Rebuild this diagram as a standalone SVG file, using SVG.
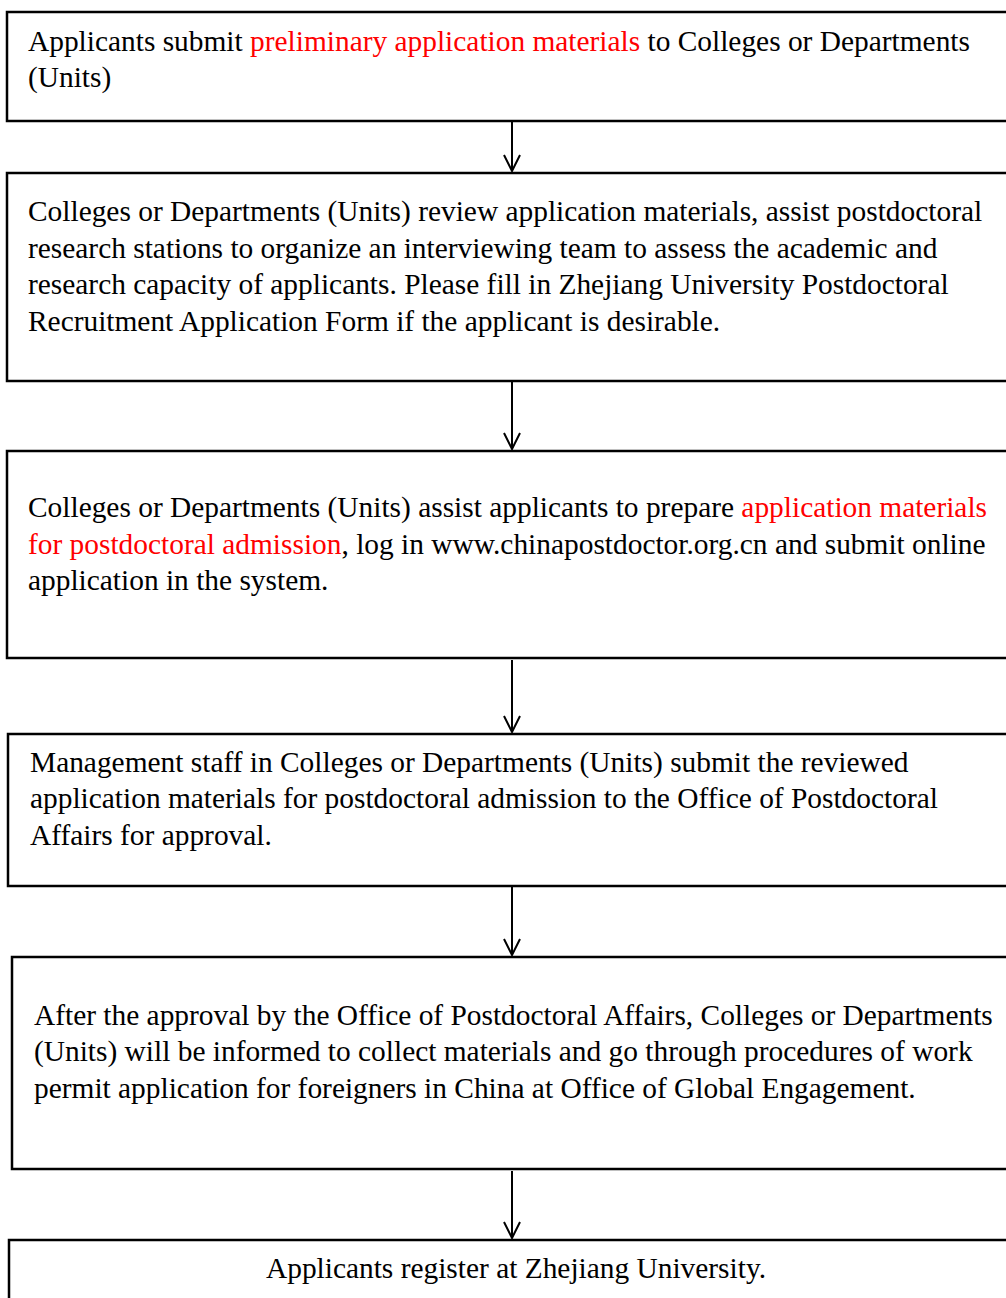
<svg xmlns="http://www.w3.org/2000/svg" width="1006" height="1298" viewBox="0 0 1006 1298">
<style>
.box{fill:#fff;stroke:#000;stroke-width:2.5}
.t{font-family:"Liberation Serif","Times New Roman",serif;font-size:29.4px;fill:#000}
.r{fill:#ff0000}
.c{stroke:#000;stroke-width:2;fill:none}
</style>
<rect width="1006" height="1298" fill="#fff"/>
<g id="n1">
<rect class="box" x="7" y="12" width="1010" height="109"/>
<text class="t" x="28" y="51">Applicants submit <tspan class="r">preliminary application materials</tspan> to Colleges or Departments</text>
<text class="t" x="28" y="87">(Units)</text>
</g>
<g id="n2">
<rect class="box" x="7" y="173" width="1010" height="208"/>
<text class="t" x="28" y="221">Colleges or Departments (Units) review application materials, assist postdoctoral</text>
<text class="t" x="28" y="258">research stations to organize an interviewing team to assess the academic and</text>
<text class="t" x="28" y="294">research capacity of applicants. Please fill in Zhejiang University Postdoctoral</text>
<text class="t" x="28" y="331">Recruitment Application Form if the applicant is desirable.</text>
</g>
<g id="n3">
<rect class="box" x="7" y="451" width="1010" height="207"/>
<text class="t" x="28" y="517">Colleges or Departments (Units) assist applicants to prepare <tspan class="r">application materials</tspan></text>
<text class="t" x="28" y="554"><tspan class="r">for postdoctoral admission</tspan>, log in www.chinapostdoctor.org.cn and submit online</text>
<text class="t" x="28" y="590">application in the system.</text>
</g>
<g id="n4">
<rect class="box" x="8" y="734" width="1010" height="152"/>
<text class="t" x="30" y="772">Management staff in Colleges or Departments (Units) submit the reviewed</text>
<text class="t" x="30" y="808">application materials for postdoctoral admission to the Office of Postdoctoral</text>
<text class="t" x="30" y="845">Affairs for approval.</text>
</g>
<g id="n5">
<rect class="box" x="12" y="957" width="1010" height="212"/>
<text class="t" x="34" y="1025">After the approval by the Office of Postdoctoral Affairs, Colleges or Departments</text>
<text class="t" x="34" y="1061">(Units) will be informed to collect materials and go through procedures of work</text>
<text class="t" x="34" y="1098">permit application for foreigners in China at Office of Global Engagement.</text>
</g>
<g id="n6">
<rect class="box" x="9" y="1240" width="1010" height="80"/>
<text class="t" x="516" y="1278" text-anchor="middle">Applicants register at Zhejiang University.</text>
</g>
<g id="connectors">
<path class="c" d="M512 122V171M504 155L512 171L520 155"/>
<path class="c" d="M512 382V449M504 433L512 449L520 433"/>
<path class="c" d="M512 660V732M504 716L512 732L520 716"/>
<path class="c" d="M512 887V955M504 939L512 955L520 939"/>
<path class="c" d="M512 1171V1238M504 1222L512 1238L520 1222"/>
</g>
</svg>
